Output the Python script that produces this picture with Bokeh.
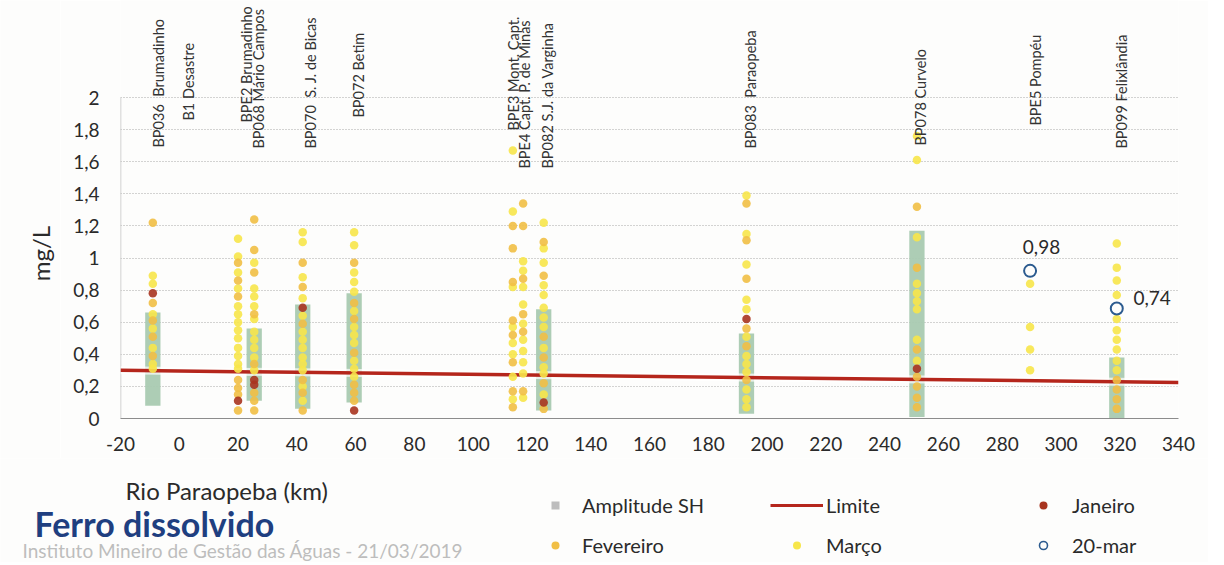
from math import pi
from bokeh.plotting import figure
from bokeh.layouts import column, row
from bokeh.models import (ColumnDataSource, Range1d, FixedTicker, Label, Legend, LegendItem)
from bokeh.core.properties import value
from bokeh.embed import file_html
from bokeh.resources import INLINE

# ---------------- data ----------------
stations = ["BP036", "BPE2", "BP068", "BP070", "BP072", "BPE3", "BPE4",
            "BP082", "BP083", "BP078", "BPE5", "BP099"]
station_km = [-9, 20, 25.5, 42, 59.5, 113.5, 117, 124, 193, 251, 289.5, 319]

janeiro = [[0.78], [0.11], [0.24, 0.21], [0.69], [0.05], [], [],
           [0.10], [0.62], [0.31], [], []]
fevereiro = [[1.22, 0.72, 0.61, 0.51, 0.39],
             [0.97, 0.86, 0.76, 0.24, 0.19, 0.15, 0.05],
             [1.24, 1.05, 0.91, 0.65, 0.34, 0.16, 0.11, 0.05],
             [0.97, 0.82, 0.59, 0.24, 0.16, 0.05],
             [0.97, 0.72, 0.62, 0.41, 0.21, 0.16, 0.11],
             [1.20, 1.06, 0.85, 0.61, 0.52, 0.35, 0.17, 0.07],
             [1.34, 1.20, 0.87, 0.65, 0.54, 0.17],
             [1.10, 0.89, 0.51, 0.38, 0.22, 0.06],
             [1.34, 1.11, 0.87, 0.56, 0.45, 0.24],
             [1.32, 0.94, 0.43, 0.26, 0.20, 0.13, 0.07],
             [],
             [0.24, 0.18, 0.12, 0.06]]
marco = [[0.89, 0.84, 0.65, 0.56, 0.44, 0.34, 0.31],
         [1.12, 1.01, 0.91, 0.81, 0.70, 0.65, 0.60, 0.55, 0.50, 0.44, 0.39, 0.34, 0.31],
         [0.97, 0.81, 0.76, 0.70, 0.62, 0.54, 0.49, 0.44, 0.38, 0.30],
         [1.16, 1.10, 0.88, 0.75, 0.64, 0.54, 0.49, 0.44, 0.38, 0.34, 0.30, 0.20, 0.11],
         [1.16, 1.08, 0.91, 0.85, 0.79, 0.67, 0.57, 0.52, 0.47, 0.36, 0.31, 0.26],
         [1.67, 1.29, 0.82, 0.57, 0.47, 0.40, 0.26, 0.12],
         [0.98, 0.92, 0.82, 0.71, 0.59, 0.49, 0.42, 0.35, 0.28, 0.13],
         [1.22, 1.06, 0.97, 0.83, 0.77, 0.69, 0.63, 0.57, 0.44, 0.32, 0.28, 0.15],
         [1.39, 1.15, 0.96, 0.74, 0.68, 0.51, 0.39, 0.34, 0.29, 0.18, 0.12, 0.07],
         [1.76, 1.61, 1.13, 0.84, 0.78, 0.73, 0.68, 0.49, 0.36],
         [0.84, 0.57, 0.43, 0.30],
         [1.09, 0.94, 0.86, 0.77, 0.62, 0.55, 0.49, 0.43, 0.36, 0.30]]

amp_km = [-9, 25.5, 42, 59.5, 124, 193, 251, 319]
amp_low = [0.08, 0.11, 0.06, 0.10, 0.05, 0.03, 0.01, 0.00]
amp_high = [0.66, 0.56, 0.71, 0.78, 0.68, 0.53, 1.17, 0.38]

mar20_km = [289.5, 319]
mar20_val = [0.92, 0.685]
mar20_text = ["0,98", "0,74"]

limite_km = [-20, 340]
limite_val = [0.30, 0.225]

NB = "\u00a0"
label_text = ["BP036" + NB + " Brumadinho", "B1 Desastre", "BPE2 Brumadinho",
              "BP068 Mário Campos", "BP070" + NB + " S. J. de Bicas", "BP072 Betim",
              "BPE3 Mont. Capt.", "BPE4 Capt. P. de Minas", "BP082 S.J. da Varginha",
              "BP083" + NB + " Paraopeba", "BP078 Curvelo", "BPE5 Pompéu",
              "BP099 Felixlândia"]

x_ticks = list(range(-20, 341, 20))
y_ticks = [0, 0.2, 0.4, 0.6, 0.8, 1.0, 1.2, 1.4, 1.6, 1.8, 2.0]
y_tick_labels = ["0", "0,2", "0,4", "0,6", "0,8", "1", "1,2", "1,4", "1,6", "1,8", "2"]

# ---------------- layout helpers (page px -> data) ----------------
TOTAL_W, TOTAL_H = 1208, 562
LEFT_W = 60
X0, Y0 = 120, 418          # frame bottom-left in page px
FW, FH = 1058, 418
TOP = Y0 - FH
MAIN_H = 458
KM_PER_PX = 360.0 / FW
PX_PER_UNIT = 160.5
YTOP = FH / PX_PER_UNIT

def sx(X):
    return -20 + (X - X0) * KM_PER_PX

def sy(Y):
    return (Y0 - Y) / PX_PER_UNIT

label_px = [158, 188, 246, 258, 310, 358, 513, 524, 547, 750, 920, 1035, 1121]
label_bottom = [147, 120, 122, 148, 148, 117, 130, 168, 168, 148, 145, 125, 148]

def flatten(groups):
    xs, ys = [], []
    for km, vals in zip(station_km, groups):
        for v in vals:
            xs.append(km)
            ys.append(v)
    return xs, ys

FONT = "Lato"
BG = "#fdfdfc"
TXT = "#2a2a2a"

# ---------------- main plot ----------------
p = figure(frame_width=FW, frame_height=FH,
           x_range=Range1d(-20, 340), y_range=Range1d(0, YTOP),
           output_backend="svg", toolbar_location=None,
           min_border_left=X0 - LEFT_W, min_border_right=TOTAL_W - X0 - FW,
           min_border_top=TOP, min_border_bottom=MAIN_H - Y0,
           background_fill_color=BG, border_fill_color=BG, outline_line_color=None)

p.xaxis.ticker = FixedTicker(ticks=x_ticks)
p.xaxis.major_label_overrides = {t: str(t) for t in x_ticks}
p.yaxis.ticker = FixedTicker(ticks=y_ticks)
p.yaxis.major_label_overrides = {t: l for t, l in zip(y_ticks, y_tick_labels)}
for ax in (p.xaxis, p.yaxis):
    ax.major_tick_line_color = None
    ax.minor_tick_line_color = None
    ax.major_label_text_font = FONT
    ax.major_label_text_font_size = "19px"
    ax.major_label_text_color = TXT
p.yaxis.axis_line_color = None
p.yaxis.major_label_standoff = 15
p.xaxis.axis_line_color = "#8c8c8c"
p.xaxis.major_label_standoff = 12
p.xgrid.visible = False
p.ygrid.ticker = FixedTicker(ticks=y_ticks[1:])
p.ygrid.grid_line_color = "#a8a8a8"
p.ygrid.grid_line_dash = "1 2"
p.ygrid.grid_line_width = 1

p.segment(x0=[-20], y0=[0], x1=[-20], y1=[2], line_color="#c4c4c4", line_width=1.5)

p.vbar(x=amp_km, bottom=amp_low, top=amp_high, width=5.2,
       fill_color="#a9cab1", line_color=None, fill_alpha=0.95)

p.line(limite_km, limite_val, line_color="white", line_width=8, line_alpha=0.7)
p.line(limite_km, limite_val, line_color="#b5261c", line_width=3.5)

mx, my = flatten(marco)
fx, fy = flatten(fevereiro)
jx, jy = flatten(janeiro)
C_MAR, C_FEV, C_JAN, C_M20 = "#f7e64a", "#f1bf45", "#a8341f", "#2c5b8f"
p.scatter(mx, my, size=8.5, fill_color=C_MAR, line_color=None, fill_alpha=0.9)
p.scatter(fx, fy, size=8.5, fill_color=C_FEV, line_color=None, fill_alpha=0.9)
p.scatter(jx, jy, size=8.5, fill_color=C_JAN, line_color=None, fill_alpha=0.9)
p.scatter(mar20_km, mar20_val, size=12, fill_color=None, line_color=C_M20, line_width=2)

p.add_layout(Label(x=sx(1041), y=sy(246), text=mar20_text[0], text_align="center",
                   text_baseline="middle", text_font=FONT, text_font_size="19px",
                   text_color=TXT))
p.add_layout(Label(x=sx(1133), y=sy(297), text=mar20_text[1], text_align="left",
                   text_baseline="middle", text_font=FONT, text_font_size="19px",
                   text_color=TXT))

lsrc = ColumnDataSource(dict(x=[sx(v) for v in label_px], y=[sy(v) for v in label_bottom],
                             text=label_text))
p.text(x="x", y="y", text="text", source=lsrc, angle=pi / 2, text_align="left",
       text_baseline="middle", text_font=value(FONT), text_font_size="14.5px",
       text_color="#333333")

# ---------------- left strip (y-axis title) ----------------
lf = figure(frame_width=LEFT_W, frame_height=MAIN_H, x_range=Range1d(0, LEFT_W),
            y_range=Range1d(MAIN_H, 0), x_axis_type=None, y_axis_type=None,
            output_backend="svg", toolbar_location=None, min_border=0,
            background_fill_color=BG, border_fill_color=BG, outline_line_color=None)
lf.grid.visible = False
lf.add_layout(Label(x=40, y=253, text="mg/L", angle=pi / 2, text_align="center",
                    text_baseline="middle", text_font=FONT, text_font_size="24px",
                    text_color=TXT))

# ---------------- bottom strip (x title, legend, title, source) ----------------
BH = TOTAL_H - MAIN_H
bf = figure(frame_width=TOTAL_W, frame_height=BH, x_range=Range1d(0, TOTAL_W),
            y_range=Range1d(TOTAL_H, MAIN_H), x_axis_type=None, y_axis_type=None,
            output_backend="svg", toolbar_location=None, min_border=0,
            background_fill_color=BG, border_fill_color=BG, outline_line_color=None)
bf.grid.visible = False

bf.add_layout(Label(x=125, y=490, text="Rio Paraopeba (km)", text_align="left",
                    text_baseline="middle", text_font=FONT, text_font_size="24px",
                    text_color=TXT))
bf.add_layout(Label(x=34, y=523, text="Ferro dissolvido", text_align="left",
                    text_baseline="middle", text_font=FONT, text_font_size="34px",
                    text_font_style="bold", text_color="#1f3f80"))
bf.add_layout(Label(x=22, y=550, text="Instituto Mineiro de Gestão das Águas - 21/03/2019",
                    text_align="left", text_baseline="middle", text_font=FONT,
                    text_font_size="19px", text_color="#bdbdbd"))

OFF = -1000
d_amp = bf.scatter(x=[OFF], y=[OFF], marker="square", size=4.5, fill_color="#bdbdbd",
                   line_color=None)
d_fev = bf.scatter(x=[OFF], y=[OFF], size=6.5, fill_color=C_FEV, line_color=None)
d_lim = bf.line(x=[OFF, OFF + 1], y=[OFF, OFF], line_color="#b5261c", line_width=3)
d_mar = bf.scatter(x=[OFF], y=[OFF], size=6.5, fill_color=C_MAR, line_color=None)
d_jan = bf.scatter(x=[OFF], y=[OFF], size=6.5, fill_color=C_JAN, line_color=None)
d_m20 = bf.scatter(x=[OFF], y=[OFF], size=11, fill_color=None, line_color=C_M20,
                   line_width=1.6)

LEG_BOTTOM = TOTAL_H - 557

def make_legend(items, x_left, gw, standoff):
    lg = Legend(items=items, location=(x_left, LEG_BOTTOM), orientation="vertical",
                glyph_width=gw, glyph_height=20, label_height=20, spacing=16,
                label_standoff=standoff, padding=0, margin=0,
                border_line_color=None, background_fill_alpha=0,
                label_text_font=FONT, label_text_font_size="20px",
                label_text_color=TXT)
    bf.add_layout(lg)

make_legend([LegendItem(label="Amplitude SH", renderers=[d_amp]),
             LegendItem(label="Fevereiro", renderers=[d_fev])], 545, 20, 17)
make_legend([LegendItem(label="Limite", renderers=[d_lim]),
             LegendItem(label="Março", renderers=[d_mar])], 770, 53, 3)
make_legend([LegendItem(label="Janeiro", renderers=[d_jan]),
             LegendItem(label="20-mar", renderers=[d_m20])], 1033, 20, 19)

layout = column(row(lf, p), bf)
open("out.html", "w").write(file_html(layout, INLINE))
